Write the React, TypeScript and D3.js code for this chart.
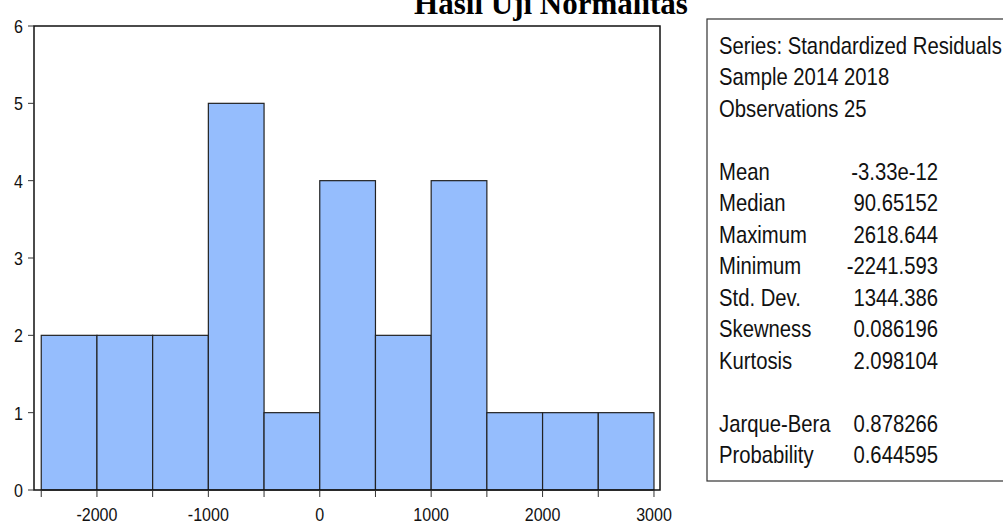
import React, { useEffect, useRef } from 'react';
import * as d3 from 'd3';

// Histogram data (bin edges and counts)
const binEdges = [-2500, -2000, -1500, -1000, -500, 0, 500, 1000, 1500, 2000, 2500, 3000];
const binCounts = [2, 2, 2, 5, 1, 4, 2, 4, 1, 1, 1];
const xTickLabels = [-2000, -1000, 0, 1000, 2000, 3000];
const yTicks = [0, 1, 2, 3, 4, 5, 6];

// Statistics panel
const headerLines = ['Series: Standardized Residuals', 'Sample 2014 2018', 'Observations 25'];
const statLabels = ['Mean', 'Median', 'Maximum', 'Minimum', 'Std. Dev.', 'Skewness', 'Kurtosis'];
const statValues = ['-3.33e-12', '90.65152', '2618.644', '-2241.593', '1344.386', '0.086196', '2.098104'];
const testLabels = ['Jarque-Bera', 'Probability'];
const testValues = ['0.878266', '0.644595'];

const W = 1003;
const H = 525;
const NARROW = 0.845;

const App = () => {
  const svgRef = useRef(null);

  useEffect(() => {
    if (!svgRef.current) return;
    document.body.style.margin = '0';

    const svg = d3.select(svgRef.current);
    svg.selectAll('*').remove();

    const font = '"Liberation Sans", Arial, sans-serif';

    // Scales
    const x = d3.scaleLinear().domain([-2565, 3054]).range([34, 660]);
    const y = d3.scaleLinear().domain([0, 6]).range([490, 26]);

    // Title (clipped at the top like the original)
    svg.append('text')
      .attr('x', 551)
      .attr('y', 14)
      .attr('text-anchor', 'middle')
      .attr('font-family', '"Liberation Serif", "Times New Roman", serif')
      .attr('font-weight', 'bold')
      .attr('font-size', 31)
      .text('Hasil Uji Normalitas');

    // Bars
    const bins = binCounts.map((c, i) => ({ x0: binEdges[i], x1: binEdges[i + 1], count: c }));
    svg.selectAll('.bar')
      .data(bins)
      .join('rect')
      .attr('class', 'bar')
      .attr('x', d => x(d.x0))
      .attr('y', d => y(d.count))
      .attr('width', d => x(d.x1) - x(d.x0))
      .attr('height', d => y(0) - y(d.count))
      .attr('fill', '#95bdfd')
      .attr('stroke', '#222')
      .attr('stroke-width', 1.2);

    // Plot frame
    svg.append('rect')
      .attr('x', x.range()[0])
      .attr('y', y.range()[1])
      .attr('width', x.range()[1] - x.range()[0])
      .attr('height', y.range()[0] - y.range()[1])
      .attr('fill', 'none')
      .attr('stroke', '#111')
      .attr('stroke-width', 1.5);

    // X ticks
    svg.append('g')
      .selectAll('line')
      .data(binEdges)
      .join('line')
      .attr('x1', d => x(d))
      .attr('x2', d => x(d))
      .attr('y1', y(0))
      .attr('y2', y(0) + 7)
      .attr('stroke', '#333')
      .attr('stroke-width', 1);

    svg.append('g')
      .selectAll('text')
      .data(xTickLabels)
      .join('text')
      .attr('transform', d => `translate(${x(d)},${y(0) + 31}) scale(${NARROW},1)`)
      .attr('text-anchor', 'middle')
      .attr('font-family', font)
      .attr('font-size', 19)
      .attr('fill', '#111')
      .text(d => d);

    // Y ticks
    svg.append('g')
      .selectAll('line')
      .data(yTicks)
      .join('line')
      .attr('x1', x.range()[0] - 6)
      .attr('x2', x.range()[0])
      .attr('y1', d => y(d))
      .attr('y2', d => y(d))
      .attr('stroke', '#333')
      .attr('stroke-width', 1);

    svg.append('g')
      .selectAll('text')
      .data(yTicks)
      .join('text')
      .attr('transform', d => `translate(${x.range()[0] - 11},${y(d) + 7}) scale(${NARROW},1)`)
      .attr('text-anchor', 'end')
      .attr('font-family', font)
      .attr('font-size', 19)
      .attr('fill', '#111')
      .text(d => d);

    // Statistics box
    svg.append('rect')
      .attr('x', 707)
      .attr('y', 19)
      .attr('width', 320)
      .attr('height', 462)
      .attr('fill', 'white')
      .attr('stroke', '#333')
      .attr('stroke-width', 1.2);

    const rowY = (i: number) => 45 + i * 31.5;
    const lines: { label: string; value?: string; row: number }[] = [];
    headerLines.forEach((t, i) => lines.push({ label: t, row: i }));
    statLabels.forEach((t, i) => lines.push({ label: t, value: statValues[i], row: 4 + i }));
    testLabels.forEach((t, i) => lines.push({ label: t, value: testValues[i], row: 12 + i }));

    const stat = svg.append('g')
      .attr('font-family', font)
      .attr('font-size', 24)
      .attr('fill', '#111');

    stat.selectAll('.lbl')
      .data(lines)
      .join('text')
      .attr('class', 'lbl')
      .attr('transform', d => `translate(719,${rowY(d.row) + 8.5}) scale(${NARROW},1)`)
      .text(d => d.label);

    stat.selectAll('.val')
      .data(lines.filter(d => d.value))
      .join('text')
      .attr('class', 'val')
      .attr('text-anchor', 'end')
      .attr('transform', d => `translate(938,${rowY(d.row) + 8.5}) scale(${NARROW},1)`)
      .text(d => d.value as string);
  }, []);

  return (
    <div style={{ width: W, height: H, background: 'white' }}>
      <svg ref={svgRef} width={W} height={H} style={{ display: 'block' }}></svg>
    </div>
  );
};

export default App;
